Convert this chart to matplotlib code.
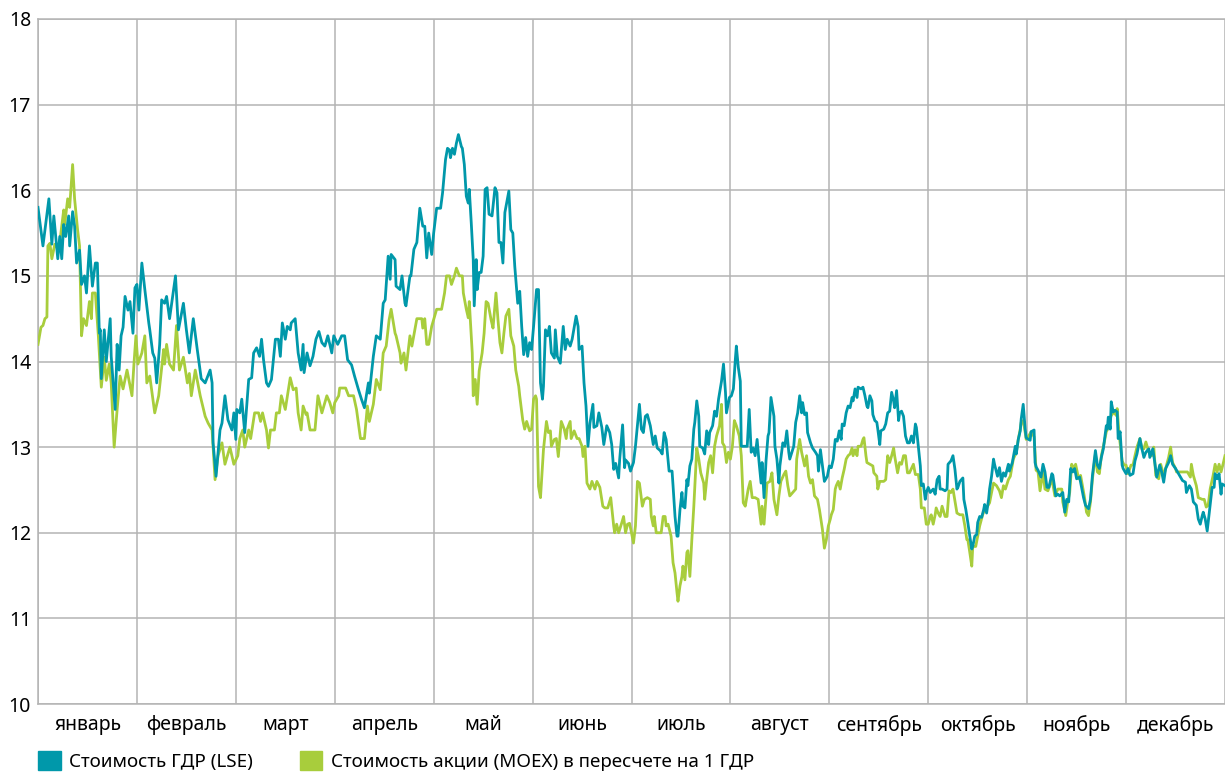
import numpy as np
import matplotlib.pyplot as plt
from matplotlib.patches import Patch

plt.rcParams['font.family'] = ['Noto Sans', 'DejaVu Sans']

# подписи месяцев и шкала
months = ['январь', 'февраль', 'март', 'апрель', 'май', 'июнь',
          'июль', 'август', 'сентябрь', 'октябрь', 'ноябрь', 'декабрь']
y_ticks = list(range(10, 19))
labels = ['Стоимость ГДР (LSE)', 'Стоимость акции (MOEX) в пересчете на 1 ГДР']

# (время в месяцах от начала года, значение)
lse_points = [
    (0.00, 15.8), (0.05, 15.35), (0.11, 15.9), (0.14, 15.37), (0.16, 15.7), (0.20, 15.2), (0.22, 15.46),
    (0.24, 15.2), (0.26, 15.6), (0.28, 15.46), (0.31, 15.7), (0.32, 15.35), (0.35, 15.75), (0.37, 15.58),
    (0.39, 15.15), (0.42, 15.3), (0.44, 14.9), (0.47, 15.0), (0.49, 14.8), (0.52, 15.35), (0.55, 14.88),
    (0.58, 15.15), (0.60, 15.15), (0.62, 14.33), (0.63, 14.37), (0.64, 13.8), (0.67, 14.37), (0.69, 14.0),
    (0.73, 14.5), (0.74, 14.06), (0.78, 13.44), (0.80, 14.2), (0.82, 13.9), (0.84, 14.3), (0.86, 14.4),
    (0.88, 14.76), (0.91, 14.6), (0.93, 14.7), (0.96, 14.33), (0.98, 14.86), (1.00, 14.9), (1.02, 14.6),
    (1.05, 15.15), (1.08, 14.84), (1.12, 14.45), (1.13, 14.37), (1.16, 14.1), (1.18, 14.04), (1.20, 13.75),
    (1.23, 14.2), (1.25, 14.72), (1.28, 14.68), (1.30, 14.76), (1.33, 14.5), (1.39, 15.0), (1.42, 14.37),
    (1.47, 14.68), (1.50, 14.37), (1.53, 14.1), (1.57, 14.5), (1.61, 14.14), (1.65, 13.8), (1.69, 13.75),
    (1.74, 13.9), (1.76, 13.75), (1.77, 13.05), (1.80, 12.66), (1.84, 13.2), (1.86, 13.28), (1.89, 13.6),
    (1.92, 13.32), (1.96, 13.2), (1.98, 13.4),
    (2.00, 13.09), (2.01, 13.44), (2.04, 13.4), (2.06, 13.56), (2.09, 13.17), (2.13, 13.79), (2.16, 13.81),
    (2.18, 14.1), (2.21, 14.16), (2.24, 14.06), (2.26, 14.26), (2.28, 14.02), (2.31, 13.75), (2.33, 13.71),
    (2.36, 13.79), (2.40, 14.26), (2.43, 14.26), (2.45, 14.06), (2.47, 14.45), (2.50, 14.26), (2.52, 14.41),
    (2.55, 14.37), (2.56, 14.45), (2.60, 14.5), (2.63, 14.1), (2.66, 13.9), (2.68, 14.2), (2.69, 13.87),
    (2.72, 14.1), (2.75, 13.95), (2.78, 14.06), (2.81, 14.26), (2.84, 14.35), (2.87, 14.22), (2.90, 14.18),
    (2.93, 14.3), (2.97, 14.1), (2.99, 14.3), (3.03, 14.2), (3.07, 14.3), (3.10, 14.3), (3.13, 14.02),
    (3.17, 13.96), (3.20, 13.83), (3.24, 13.67), (3.27, 13.56), (3.30, 13.46), (3.34, 13.75), (3.35, 13.63),
    (3.39, 14.06), (3.42, 14.3), (3.46, 14.26), (3.49, 14.68), (3.51, 14.72), (3.54, 15.23), (3.56, 14.96),
    (3.57, 15.25), (3.61, 15.19), (3.62, 14.88), (3.66, 14.84), (3.68, 15.0), (3.71, 14.68), (3.72, 14.65),
    (3.76, 15.0), (3.77, 15.0), (3.80, 15.31), (3.83, 15.39), (3.86, 15.79), (3.89, 15.58), (3.91, 15.58),
    (3.93, 15.21), (3.95, 15.5), (3.98, 15.25), (4.00, 15.5),
    (4.03, 15.79), (4.07, 15.79), (4.09, 15.97), (4.12, 16.36), (4.14, 16.49), (4.16, 16.47), (4.17, 16.38),
    (4.19, 16.49), (4.21, 16.42), (4.23, 16.55), (4.25, 16.65), (4.28, 16.51), (4.29, 16.49), (4.31, 16.3),
    (4.33, 15.93), (4.35, 15.85), (4.36, 16.01), (4.38, 15.62), (4.40, 15.19), (4.41, 14.65), (4.43, 15.19),
    (4.44, 14.84), (4.46, 15.04), (4.48, 15.04), (4.50, 15.23), (4.52, 16.01), (4.54, 16.03), (4.56, 15.72),
    (4.59, 15.7), (4.62, 16.03), (4.64, 15.97), (4.66, 15.39), (4.68, 15.39), (4.70, 15.15), (4.72, 15.74),
    (4.76, 15.99), (4.78, 15.54), (4.80, 15.5), (4.82, 15.11), (4.85, 14.68), (4.87, 14.82), (4.89, 14.41),
    (4.91, 14.08), (4.93, 14.28), (4.95, 14.06), (4.97, 14.22), (4.99, 14.14), (5.01, 14.41), (5.04, 14.84),
    (5.06, 14.84), (5.08, 13.75), (5.10, 13.56), (5.11, 13.71), (5.13, 14.37), (5.15, 14.3), (5.17, 14.41),
    (5.19, 14.1), (5.22, 14.04), (5.23, 14.37), (5.25, 14.06), (5.28, 13.98), (5.31, 14.41), (5.33, 14.14),
    (5.35, 14.26), (5.38, 14.18), (5.40, 14.26), (5.44, 14.53), (5.46, 14.41), (5.47, 14.14), (5.50, 14.18),
    (5.52, 13.75), (5.54, 13.48), (5.56, 13.01), (5.58, 13.28), (5.61, 13.5), (5.62, 13.23), (5.65, 13.25),
    (5.67, 13.4), (5.70, 13.23), (5.72, 13.03), (5.75, 13.25), (5.78, 13.17), (5.80, 13.03), (5.82, 12.74),
    (5.84, 12.81), (5.87, 12.64), (5.88, 12.85), (5.91, 13.26), (5.93, 12.76), (5.94, 12.85), (5.97, 12.81),
    (5.99, 12.72),
    (6.02, 12.82), (6.04, 13.01), (6.06, 13.25), (6.08, 13.5), (6.10, 13.21), (6.12, 13.17), (6.14, 13.36),
    (6.16, 13.38), (6.19, 13.25), (6.22, 13.03), (6.24, 13.13), (6.26, 12.99), (6.29, 12.96), (6.31, 12.92),
    (6.33, 13.17), (6.35, 13.09), (6.38, 12.72), (6.41, 12.72), (6.42, 12.55), (6.44, 12.19), (6.46, 11.96),
    (6.47, 11.96), (6.49, 12.27), (6.51, 12.47), (6.52, 12.31), (6.54, 12.29), (6.56, 12.62), (6.57, 12.55),
    (6.59, 12.78), (6.61, 12.86), (6.63, 13.21), (6.64, 13.29), (6.66, 13.54), (6.68, 13.36), (6.69, 13.01),
    (6.72, 12.99), (6.74, 12.92), (6.76, 13.19), (6.78, 13.03), (6.79, 13.17), (6.82, 13.25), (6.84, 13.42),
    (6.86, 13.36), (6.88, 13.56), (6.91, 13.77), (6.93, 13.97), (6.95, 13.64), (6.96, 13.4), (6.99, 13.58),
    (7.01, 13.6), (7.03, 13.68), (7.05, 14.03), (7.06, 14.18), (7.08, 13.93), (7.10, 13.77), (7.11, 13.01),
    (7.14, 13.01), (7.17, 13.01), (7.19, 13.44), (7.21, 12.94), (7.23, 12.99), (7.25, 12.9), (7.27, 13.09),
    (7.29, 12.82), (7.31, 12.58), (7.32, 12.82), (7.34, 12.41), (7.36, 12.84), (7.38, 13.13), (7.39, 13.17),
    (7.41, 13.58), (7.44, 13.36), (7.45, 13.01), (7.47, 12.86), (7.49, 12.58), (7.50, 12.78), (7.53, 13.05),
    (7.55, 13.01), (7.57, 13.19), (7.59, 12.94), (7.60, 12.86), (7.64, 13.01), (7.66, 13.29), (7.68, 13.4),
    (7.70, 13.6), (7.72, 13.4), (7.73, 13.52), (7.75, 13.38), (7.77, 13.4), (7.78, 13.17), (7.81, 13.05),
    (7.83, 12.99), (7.86, 12.94), (7.88, 12.9), (7.89, 12.72), (7.91, 12.97), (7.93, 12.78), (7.95, 12.6),
    (7.98, 12.66), (8.00, 12.78),
    (8.02, 12.76), (8.04, 12.86), (8.06, 13.09), (8.08, 13.07), (8.10, 13.19), (8.12, 13.09), (8.13, 13.27),
    (8.15, 13.25), (8.17, 13.4), (8.19, 13.48), (8.21, 13.46), (8.23, 13.58), (8.24, 13.54), (8.26, 13.68),
    (8.28, 13.58), (8.29, 13.7), (8.32, 13.68), (8.34, 13.7), (8.36, 13.6), (8.38, 13.48), (8.39, 13.46),
    (8.41, 13.6), (8.43, 13.54), (8.44, 13.38), (8.46, 13.31), (8.48, 13.29), (8.49, 13.21), (8.51, 13.03),
    (8.52, 13.19), (8.55, 13.21), (8.57, 13.27), (8.59, 13.4), (8.61, 13.42), (8.63, 13.64), (8.65, 13.54),
    (8.66, 13.46), (8.68, 13.66), (8.70, 13.31), (8.71, 13.4), (8.73, 13.42), (8.75, 13.36), (8.77, 13.13),
    (8.79, 13.05), (8.81, 13.05), (8.83, 13.13), (8.85, 13.05), (8.87, 13.27), (8.88, 13.23), (8.90, 13.01),
    (8.92, 12.78), (8.93, 12.55), (8.95, 12.57), (8.97, 12.39), (8.98, 12.47), (9.00, 12.53), (9.02, 12.47),
    (9.05, 12.51), (9.07, 12.45), (9.09, 12.62), (9.11, 12.66), (9.12, 12.51), (9.14, 12.51), (9.17, 12.49),
    (9.19, 12.51), (9.20, 12.8), (9.23, 12.84), (9.25, 12.9), (9.27, 12.74), (9.29, 12.51), (9.30, 12.53),
    (9.32, 12.6), (9.35, 12.64), (9.36, 12.39), (9.38, 12.27), (9.40, 12.12), (9.42, 11.96), (9.44, 11.81),
    (9.45, 11.84), (9.47, 11.96), (9.49, 11.98), (9.50, 12.12), (9.52, 12.19), (9.54, 12.18), (9.56, 12.27),
    (9.57, 12.33), (9.59, 12.23), (9.61, 12.39), (9.62, 12.51), (9.64, 12.66), (9.66, 12.86), (9.67, 12.8),
    (9.70, 12.66), (9.72, 12.76), (9.74, 12.6), (9.76, 12.7), (9.78, 12.66), (9.81, 12.8), (9.82, 12.72),
    (9.85, 12.82), (9.88, 13.01), (9.89, 12.92), (9.91, 13.09), (9.93, 13.19), (9.94, 13.33), (9.96, 13.5),
    (9.98, 13.21), (9.99, 13.11),
    (10.00, 13.1), (10.03, 13.08), (10.04, 13.18), (10.07, 13.2), (10.08, 12.82), (10.09, 12.77), (10.11, 12.73),
    (10.14, 12.65), (10.16, 12.8), (10.18, 12.71), (10.20, 12.53), (10.22, 12.53), (10.25, 12.69), (10.26, 12.67),
    (10.29, 12.43), (10.31, 12.45), (10.33, 12.43), (10.36, 12.47), (10.38, 12.24), (10.40, 12.39), (10.42, 12.36),
    (10.44, 12.75), (10.46, 12.71), (10.48, 12.75), (10.50, 12.63), (10.53, 12.65), (10.55, 12.53), (10.57, 12.41),
    (10.59, 12.32), (10.62, 12.28), (10.64, 12.39), (10.66, 12.67), (10.69, 12.96), (10.71, 12.79), (10.73, 12.75),
    (10.75, 12.88), (10.77, 12.98), (10.80, 13.25), (10.81, 13.21), (10.82, 13.35), (10.84, 13.21), (10.85, 13.53),
    (10.87, 13.41), (10.89, 13.43), (10.91, 13.41), (10.92, 13.1), (10.94, 13.18), (10.96, 12.79), (10.97, 12.75),
    (11.00, 12.69), (11.02, 12.75), (11.04, 12.67), (11.07, 12.69), (11.09, 12.84), (11.11, 12.92), (11.14, 13.1),
    (11.16, 12.98), (11.18, 12.88), (11.20, 12.94), (11.23, 12.98), (11.24, 12.88), (11.27, 12.98), (11.29, 12.82),
    (11.31, 12.65), (11.34, 12.79), (11.36, 12.71), (11.38, 12.59), (11.40, 12.75), (11.43, 12.82), (11.45, 12.9),
    (11.47, 12.8), (11.50, 12.75), (11.52, 12.71), (11.55, 12.65), (11.57, 12.61), (11.60, 12.59), (11.61, 12.47),
    (11.64, 12.55), (11.66, 12.51), (11.68, 12.36), (11.71, 12.32), (11.73, 12.16), (11.75, 12.1), (11.77, 12.2),
    (11.78, 12.24), (11.80, 12.16), (11.82, 12.02), (11.84, 12.22), (11.87, 12.53), (11.89, 12.53), (11.90, 12.69),
    (11.92, 12.63), (11.94, 12.69), (11.96, 12.45), (11.97, 12.57), (12.00, 12.55),
]

moex_points = [
    (0.00, 14.2), (0.03, 14.4), (0.05, 14.42), (0.07, 14.5), (0.09, 14.52), (0.10, 15.35), (0.12, 15.38),
    (0.14, 15.2), (0.17, 15.37), (0.21, 15.3), (0.26, 15.77), (0.27, 15.6), (0.30, 15.9), (0.32, 15.8),
    (0.35, 16.3), (0.37, 15.9), (0.40, 15.54), (0.42, 15.35), (0.44, 14.3), (0.46, 14.5), (0.49, 14.42),
    (0.52, 14.7), (0.54, 14.5), (0.55, 14.8), (0.58, 14.8), (0.61, 14.3), (0.64, 13.7), (0.67, 14.05),
    (0.69, 13.78), (0.72, 13.97), (0.74, 13.75), (0.77, 13.0), (0.80, 13.44), (0.83, 13.83), (0.86, 13.68),
    (0.90, 13.9), (0.95, 13.6), (0.97, 13.97), (0.99, 14.3), (1.01, 13.97), (1.05, 14.1), (1.08, 14.3),
    (1.10, 13.75), (1.13, 13.83), (1.18, 13.4), (1.22, 13.6), (1.27, 14.14), (1.28, 13.97), (1.30, 14.2),
    (1.33, 13.97), (1.37, 13.9), (1.40, 14.42), (1.43, 13.9), (1.47, 14.05), (1.51, 13.75), (1.53, 13.86),
    (1.55, 13.6), (1.59, 13.9), (1.64, 13.6), (1.69, 13.36), (1.72, 13.28), (1.76, 13.2), (1.79, 12.62),
    (1.82, 12.9), (1.86, 13.05), (1.89, 12.8), (1.94, 13.0), (1.98, 12.8),
    (2.02, 12.9), (2.04, 13.1), (2.07, 13.2), (2.09, 13.0), (2.13, 13.2), (2.15, 13.1), (2.19, 13.4),
    (2.23, 13.4), (2.25, 13.3), (2.27, 13.4), (2.31, 13.2), (2.33, 12.99), (2.35, 13.2), (2.39, 13.2),
    (2.41, 13.4), (2.44, 13.4), (2.46, 13.6), (2.50, 13.44), (2.55, 13.81), (2.58, 13.67), (2.61, 13.69),
    (2.63, 13.4), (2.66, 13.2), (2.68, 13.48), (2.71, 13.38), (2.72, 13.4), (2.75, 13.2), (2.80, 13.2),
    (2.83, 13.6), (2.87, 13.4), (2.92, 13.6), (2.95, 13.52), (2.98, 13.4), (3.00, 13.52), (3.04, 13.6),
    (3.05, 13.69), (3.11, 13.69), (3.14, 13.6), (3.19, 13.6), (3.22, 13.44), (3.26, 13.1), (3.30, 13.1),
    (3.33, 13.48), (3.35, 13.3), (3.39, 13.5), (3.42, 13.79), (3.46, 13.67), (3.49, 14.1), (3.52, 14.18),
    (3.55, 14.49), (3.57, 14.61), (3.61, 14.33), (3.62, 14.3), (3.66, 14.1), (3.67, 13.98), (3.70, 14.1),
    (3.72, 13.9), (3.76, 14.3), (3.78, 14.18), (3.81, 14.37), (3.83, 14.5), (3.88, 14.5), (3.89, 14.39),
    (3.91, 14.5), (3.93, 14.2), (3.95, 14.2), (3.98, 14.41), (4.00, 14.49),
    (4.03, 14.61), (4.08, 14.61), (4.11, 14.8), (4.13, 15.0), (4.16, 15.0), (4.18, 14.9), (4.21, 15.0),
    (4.23, 15.09), (4.26, 15.0), (4.29, 15.0), (4.30, 14.8), (4.33, 14.61), (4.35, 14.51), (4.36, 14.7),
    (4.39, 14.1), (4.40, 13.6), (4.42, 13.79), (4.44, 13.5), (4.46, 13.89), (4.49, 14.1), (4.51, 14.33),
    (4.53, 14.7), (4.55, 14.68), (4.58, 14.49), (4.60, 14.39), (4.63, 14.8), (4.65, 14.49), (4.67, 14.22),
    (4.69, 14.1), (4.71, 14.33), (4.73, 14.53), (4.76, 14.61), (4.78, 14.3), (4.81, 14.18), (4.83, 13.9),
    (4.86, 13.71), (4.87, 13.6), (4.90, 13.32), (4.92, 13.21), (4.94, 13.3), (4.97, 13.19), (4.99, 13.21),
    (5.01, 13.56), (5.03, 13.6), (5.04, 13.56), (5.06, 12.54), (5.08, 12.41), (5.11, 12.97), (5.14, 13.3),
    (5.16, 13.17), (5.18, 13.19), (5.19, 13.01), (5.22, 13.09), (5.24, 13.1), (5.26, 12.89), (5.29, 13.3),
    (5.32, 13.21), (5.34, 13.1), (5.35, 13.21), (5.38, 13.3), (5.39, 13.1), (5.42, 13.19), (5.45, 13.1),
    (5.47, 13.1), (5.50, 13.01), (5.51, 12.89), (5.53, 13.01), (5.55, 12.58), (5.58, 12.51), (5.60, 12.6),
    (5.63, 12.51), (5.65, 12.6), (5.68, 12.53), (5.71, 12.31), (5.73, 12.29), (5.76, 12.29), (5.79, 12.41),
    (5.82, 12.08), (5.83, 12.0), (5.85, 12.1), (5.87, 12.0), (5.90, 12.11), (5.92, 12.19), (5.94, 12.0),
    (5.96, 12.1), (5.98, 12.11), (6.00, 12.0),
    (6.02, 11.88), (6.04, 12.08), (6.06, 12.6), (6.08, 12.58), (6.11, 12.31), (6.13, 12.39), (6.16, 12.41),
    (6.19, 12.39), (6.20, 12.19), (6.22, 12.08), (6.23, 12.19), (6.25, 12.0), (6.30, 12.0), (6.32, 12.19),
    (6.34, 12.19), (6.35, 12.08), (6.37, 12.1), (6.40, 11.96), (6.42, 11.65), (6.44, 11.53), (6.46, 11.3),
    (6.47, 11.2), (6.49, 11.38), (6.51, 11.49), (6.52, 11.61), (6.54, 11.45), (6.56, 11.77), (6.57, 11.79),
    (6.59, 11.49), (6.61, 11.92), (6.63, 12.31), (6.65, 12.78), (6.66, 12.99), (6.68, 12.86), (6.70, 12.7),
    (6.73, 12.58), (6.74, 12.39), (6.76, 12.62), (6.78, 12.82), (6.80, 12.9), (6.82, 12.7), (6.84, 13.01),
    (6.86, 13.13), (6.89, 13.25), (6.91, 13.5), (6.92, 13.05), (6.94, 13.01), (6.96, 12.82), (6.98, 12.94),
    (7.00, 12.86), (7.02, 13.01), (7.04, 13.31), (7.06, 13.25), (7.09, 13.13), (7.11, 12.9), (7.13, 12.35),
    (7.15, 12.31), (7.18, 12.51), (7.20, 12.6), (7.22, 12.41), (7.25, 12.41), (7.28, 12.39), (7.31, 12.1),
    (7.32, 12.31), (7.34, 12.1), (7.37, 12.58), (7.40, 12.6), (7.42, 12.7), (7.44, 12.39), (7.47, 12.21),
    (7.49, 12.43), (7.51, 12.6), (7.54, 12.68), (7.56, 12.72), (7.58, 12.55), (7.60, 12.43), (7.63, 12.47),
    (7.66, 12.51), (7.67, 12.86), (7.70, 13.09), (7.72, 12.94), (7.75, 12.78), (7.77, 12.9), (7.79, 12.66),
    (7.81, 12.58), (7.83, 12.62), (7.85, 12.43), (7.88, 12.39), (7.90, 12.27), (7.93, 12.04), (7.95, 11.82),
    (7.97, 11.92), (7.99, 12.08),
    (8.01, 12.16), (8.02, 12.21), (8.04, 12.27), (8.06, 12.51), (8.07, 12.55), (8.09, 12.6), (8.11, 12.51),
    (8.13, 12.64), (8.15, 12.74), (8.17, 12.86), (8.19, 12.9), (8.21, 12.92), (8.23, 12.99), (8.24, 12.9),
    (8.26, 12.97), (8.28, 12.9), (8.29, 13.01), (8.32, 13.01), (8.34, 13.09), (8.35, 13.11), (8.37, 12.9),
    (8.38, 12.82), (8.41, 12.8), (8.44, 12.78), (8.45, 12.7), (8.48, 12.66), (8.49, 12.51), (8.51, 12.6),
    (8.55, 12.6), (8.57, 12.62), (8.59, 12.9), (8.61, 12.82), (8.63, 12.9), (8.65, 12.99), (8.66, 12.9),
    (8.69, 12.7), (8.71, 12.82), (8.73, 12.8), (8.75, 12.9), (8.77, 12.9), (8.79, 12.7), (8.81, 12.7),
    (8.85, 12.8), (8.87, 12.68), (8.90, 12.68), (8.92, 12.51), (8.93, 12.29), (8.96, 12.29), (8.98, 12.1),
    (9.00, 12.1), (9.02, 12.19), (9.03, 12.21), (9.05, 12.1), (9.07, 12.21), (9.08, 12.29), (9.10, 12.23),
    (9.12, 12.19), (9.14, 12.31), (9.17, 12.19), (9.19, 12.19), (9.21, 12.49), (9.23, 12.47), (9.25, 12.51),
    (9.27, 12.37), (9.29, 12.23), (9.32, 12.21), (9.35, 12.21), (9.37, 12.08), (9.39, 11.92), (9.40, 11.92),
    (9.42, 11.77), (9.44, 11.61), (9.45, 11.84), (9.48, 11.84), (9.50, 11.96), (9.52, 12.08), (9.55, 12.21),
    (9.57, 12.27), (9.60, 12.31), (9.62, 12.35), (9.64, 12.47), (9.66, 12.58), (9.69, 12.55), (9.72, 12.49),
    (9.74, 12.41), (9.76, 12.55), (9.78, 12.51), (9.81, 12.62), (9.83, 12.66), (9.86, 12.86), (9.89, 12.94),
    (9.91, 13.09), (9.93, 13.21), (9.94, 13.29), (9.96, 13.31), (9.98, 13.17), (9.99, 13.09),
    (10.00, 13.1), (10.04, 13.18), (10.07, 13.12), (10.09, 12.73), (10.11, 12.71), (10.13, 12.49), (10.16, 12.71),
    (10.18, 12.51), (10.21, 12.49), (10.25, 12.63), (10.28, 12.43), (10.31, 12.51), (10.35, 12.51), (10.36, 12.36),
    (10.39, 12.2), (10.41, 12.36), (10.43, 12.47), (10.45, 12.8), (10.47, 12.75), (10.49, 12.8), (10.52, 12.63),
    (10.54, 12.67), (10.57, 12.47), (10.58, 12.41), (10.60, 12.24), (10.62, 12.2), (10.64, 12.36), (10.66, 12.63),
    (10.69, 12.92), (10.71, 12.71), (10.73, 12.69), (10.75, 12.9), (10.78, 13.06), (10.80, 13.18), (10.81, 13.2),
    (10.83, 13.29), (10.85, 13.37), (10.88, 13.41), (10.90, 13.37), (10.91, 13.45), (10.93, 13.14), (10.96, 12.84),
    (10.98, 12.79), (11.00, 12.79), (11.02, 12.69), (11.05, 12.79), (11.07, 12.79), (11.09, 12.9), (11.11, 13.0),
    (11.14, 13.1), (11.16, 12.98), (11.18, 12.98), (11.20, 13.06), (11.23, 12.94), (11.26, 12.9), (11.28, 13.0),
    (11.30, 12.67), (11.33, 12.63), (11.35, 12.8), (11.38, 12.67), (11.40, 12.75), (11.43, 12.88), (11.45, 13.0),
    (11.47, 12.82), (11.50, 12.75), (11.51, 12.71), (11.55, 12.71), (11.60, 12.71), (11.62, 12.71), (11.65, 12.65),
    (11.66, 12.8), (11.68, 12.67), (11.71, 12.55), (11.73, 12.41), (11.77, 12.39), (11.79, 12.39), (11.81, 12.3),
    (11.83, 12.32), (11.85, 12.51), (11.88, 12.67), (11.90, 12.8), (11.92, 12.71), (11.94, 12.8), (11.96, 12.71),
    (11.98, 12.8), (12.00, 12.9),
]

TEAL = '#0098aa'
GREEN = '#a8cd3c'
GRID = '#b4b4b4'

lse_t, lse_v = np.array(lse_points).T
moex_t, moex_v = np.array(moex_points).T

fig = plt.figure(figsize=(12.25, 7.73), dpi=100)
ax = fig.add_axes([38 / 1225, 1 - 704 / 773, 1 - 38 / 1225, (704 - 19) / 773])

ax.plot(moex_t, moex_v, color=GREEN, linewidth=2.0, zorder=3)
ax.plot(lse_t, lse_v, color=TEAL, linewidth=2.0, zorder=4)

ax.set_xlim(0, 12)
ax.set_ylim(10, 18)
ax.set_yticks(y_ticks)
ax.set_xticks(range(13))
ax.set_xticklabels([])
ax.set_xticks(np.arange(12) + 0.5, minor=True)
ax.set_xticklabels(months, minor=True)

ax.tick_params(axis='x', which='both', length=0, pad=8, labelsize=14)
ax.tick_params(axis='y', length=0, pad=5, labelsize=14)
ax.grid(True, which='major', color=GRID, linewidth=1.1)
ax.set_axisbelow(True)
for side in ['left', 'bottom', 'top']:
    ax.spines[side].set_color(GRID)
    ax.spines[side].set_linewidth(1.1)
ax.spines['right'].set_visible(False)

handles = [Patch(color=TEAL), Patch(color=GREEN)]
fig.legend(handles, labels, loc='center left', bbox_to_anchor=(38 / 1225, 1 - 761 / 773),
           ncol=2, frameon=False, fontsize=13.5, handlelength=1.2, handleheight=1.2,
           handletextpad=0.45, columnspacing=2.5, borderpad=0, borderaxespad=0)

fig.savefig('out.png', dpi=100)
